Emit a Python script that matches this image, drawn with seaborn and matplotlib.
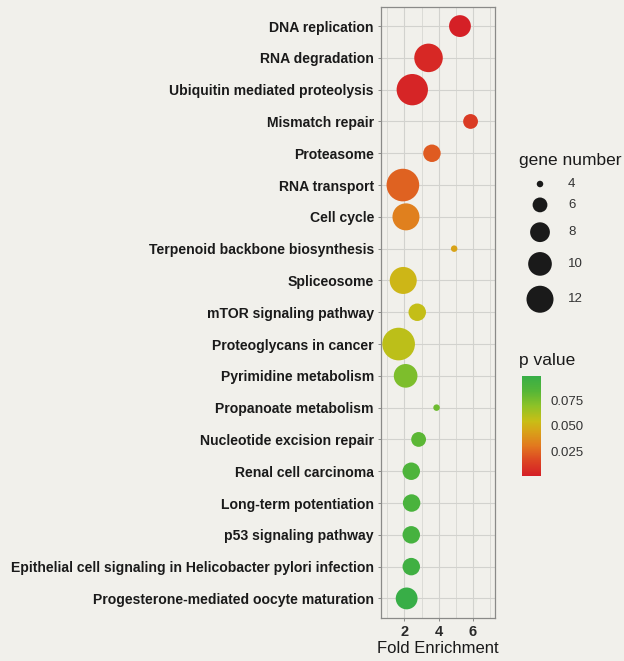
import numpy as np
import pandas as pd
import matplotlib
matplotlib.use("Agg")
import matplotlib.pyplot as plt
from matplotlib.colors import LinearSegmentedColormap, Normalize
import seaborn as sns

pathways = [
    "DNA replication",
    "RNA degradation",
    "Ubiquitin mediated proteolysis",
    "Mismatch repair",
    "Proteasome",
    "RNA transport",
    "Cell cycle",
    "Terpenoid backbone biosynthesis",
    "Spliceosome",
    "mTOR signaling pathway",
    "Proteoglycans in cancer",
    "Pyrimidine metabolism",
    "Propanoate metabolism",
    "Nucleotide excision repair",
    "Renal cell carcinoma",
    "Long-term potentiation",
    "p53 signaling pathway",
    "Epithelial cell signaling in Helicobacter pylori infection",
    "Progesterone-mediated oocyte maturation",
]
fold_enrichment = [5.25, 3.41, 2.46, 5.87, 3.61, 1.91, 2.09, 4.91, 1.93, 2.75,
                   1.66, 2.07, 3.88, 2.83, 2.40, 2.42, 2.40, 2.40, 2.13]
gene_number = [9, 13, 15, 6, 7, 16, 12, 4, 12, 7,
               16, 10, 4, 6, 7, 7, 7, 7, 9]
p_value = [0.001, 0.004, 0.003, 0.012, 0.022, 0.024, 0.033, 0.045, 0.052, 0.056,
           0.058, 0.074, 0.078, 0.083, 0.088, 0.090, 0.092, 0.095, 0.099]

size_breaks = [4, 6, 8, 10, 12]
p_breaks = [0.025, 0.050, 0.075]
p_range = (0.0005, 0.0995)

df = pd.DataFrame({"pathway": pathways, "fold": fold_enrichment,
                   "genes": gene_number, "p": p_value})

W, H, DPI = 624, 661, 100
BG = "#F1F0EB"
GRID = "#D2D2CE"
TXT = "#1A1A1A"

def diameter_px(n):
    return 0.78 + 9.05 * np.sqrt(n - 3.6)

def area_pt2(n):
    return (diameter_px(n) * 72.0 / DPI) ** 2

size_lookup = {n: area_pt2(n) for n in sorted(set(gene_number) | set(size_breaks))}

cmap = LinearSegmentedColormap.from_list("pv", [
    (0.00, "#D51F26"), (0.15, "#DC4423"), (0.30, "#E2781F"),
    (0.45, "#D8A318"), (0.55, "#C8BE16"), (0.70, "#8EC227"),
    (0.85, "#55B637"), (1.00, "#37AE47")])
norm = Normalize(*p_range)

plt.rcParams["font.family"] = ["Liberation Sans", "DejaVu Sans"]
fig = plt.figure(figsize=(W / DPI, H / DPI), dpi=DPI, facecolor=BG)

def fx(px):
    return px / W

def fy(py):
    return 1 - py / H

left, right, top, bottom = 380.5, 495.0, 7.0, 617.5
ax = fig.add_axes([fx(left), fy(bottom), fx(right - left), (bottom - top) / H])
ax.set_facecolor(BG)

sns.scatterplot(data=df, x="fold", y="pathway", hue="p", size="genes",
                palette=cmap, hue_norm=norm, sizes=size_lookup,
                linewidth=0, alpha=1, legend=False, ax=ax, zorder=3)

n = len(pathways)
ax.set_ylim(n - 0.4, -0.6)
ax.set_xlim(0.6, 7.3)
ax.set_xticks([2, 4, 6])
ax.set_xticks([1, 3, 5, 7], minor=True)
ax.grid(True, which="major", color=GRID, linewidth=0.8, zorder=0)
ax.grid(True, which="minor", axis="x", color=GRID, linewidth=0.5, zorder=0)
ax.set_axisbelow(True)
for sp in ax.spines.values():
    sp.set_color("#8A8A88")
    sp.set_linewidth(0.9)
ax.tick_params(axis="both", which="major", length=2.5, width=0.7, color="#8A8A88")
ax.tick_params(axis="x", which="minor", length=0)
ax.tick_params(axis="y", labelsize=10.1, pad=2.2, labelcolor=TXT)
ax.tick_params(axis="x", labelsize=10.5, pad=3, labelcolor="#2A2A2A")
for lab in ax.get_yticklabels():
    lab.set_fontweight("bold")
for lab in ax.get_xticklabels():
    lab.set_fontweight("bold")
ax.set_ylabel("")
ax.set_xlabel("Fold Enrichment", fontsize=12, color=TXT, labelpad=1)

# size legend, laid out in pixel units
fig.text(fx(519), fy(161), "gene number", fontsize=12.5, color=TXT,
         ha="left", va="center")
ly0, ly1 = 168, 325
lax = fig.add_axes([fx(515), fy(ly1), fx(90), (ly1 - ly0) / H])
heights = np.array([max(17.0, diameter_px(b) + 10.0) for b in size_breaks])
gaps = (heights[:-1] + heights[1:]) / 2
centers = 184 + np.concatenate([[0], np.cumsum(gaps)])
leg = pd.DataFrame({"x": [25] * len(size_breaks), "y": centers, "genes": size_breaks})
sns.scatterplot(data=leg, x="x", y="y", size="genes", sizes=size_lookup,
                color="#1A1A1A", linewidth=0, legend=False, ax=lax, clip_on=False)
lax.set_xlim(0, 90)
lax.set_ylim(ly1, ly0)
lax.axis("off")
for b, cy in zip(size_breaks, centers):
    lax.text(53, cy, str(b), fontsize=9.5, color="#333333", ha="left", va="center")

# colour bar
fig.text(fx(519), fy(360), "p value", fontsize=12.5, color=TXT,
         ha="left", va="center")
cax = fig.add_axes([fx(522), fy(476), fx(19), 100 / H])
cb = fig.colorbar(plt.cm.ScalarMappable(norm=norm, cmap=cmap), cax=cax)
cb.outline.set_visible(False)
cb.set_ticks(p_breaks)
cb.set_ticklabels([f"{v:.3f}" for v in p_breaks])
cax.tick_params(length=0, labelsize=9.5, labelcolor="#333333", pad=7)

fig.savefig("out.png", dpi=DPI, facecolor=BG)
